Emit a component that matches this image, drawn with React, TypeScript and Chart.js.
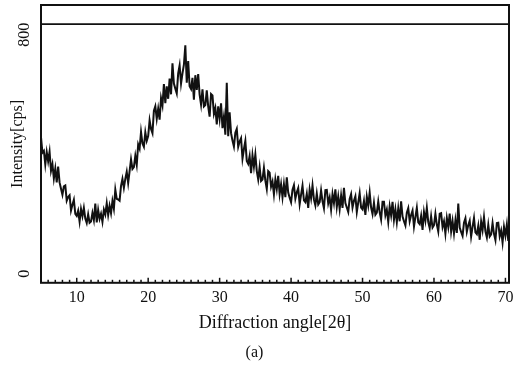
import { useEffect, useRef } from 'react';
import { Chart, registerables } from 'chart.js';

Chart.register(...registerables);

// Scan grid (degrees 2θ)
const SCAN_START = 5;
const SCAN_STEP = 0.2;

// Measured intensity [cps], one row per degree (5 steps each)
const INTENSITY = [
  458, 406, 412, 366, 408, // 5
  377, 409, 345, 367, 319, // 6
  352, 306, 359, 306, 285, // 7
  265, 293, 296, 245, 257, // 8
  263, 212, 231, 248, 201, // 9
  194, 211, 175, 217, 193, // 10
  221, 185, 170, 199, 171, // 11
  175, 204, 180, 235, 172, // 12
  214, 184, 201, 174, 215, // 13
  199, 236, 197, 228, 203, // 14
  244, 218, 282, 251, 249, // 15
  245, 294, 318, 288, 318, // 16
  342, 304, 344, 383, 351, // 17
  357, 395, 365, 433, 419, // 18
  475, 436, 425, 474, 445, // 19
  461, 514, 485, 471, 546, // 20
  561, 519, 553, 516, 588, // 21
  564, 635, 571, 628, 586, // 22
  654, 601, 705, 637, 620, // 23
  604, 671, 698, 637, 671, // 24
  700, 765, 640, 712, 628, // 25
  619, 656, 583, 665, 616, // 26
  669, 600, 567, 618, 560, // 27
  565, 614, 561, 526, 602, // 28
  597, 536, 555, 500, 561, // 29
  519, 571, 488, 526, 466, // 30
  640, 461, 541, 471, 446, // 31
  426, 472, 485, 425, 443, // 32
  454, 386, 418, 445, 378, // 33
  368, 394, 337, 397, 359, // 34
  400, 344, 316, 357, 311, // 35
  316, 355, 312, 284, 344, // 36
  339, 292, 309, 266, 316, // 37
  284, 328, 267, 300, 256, // 38
  300, 257, 323, 272, 255, // 39
  240, 282, 297, 252, 273, // 40
  287, 233, 265, 295, 246, // 41
  240, 268, 221, 282, 253, // 42
  296, 249, 229, 269, 232, // 43
  240, 279, 243, 220, 280, // 44
  281, 236, 256, 215, 267, // 45
  237, 283, 224, 259, 217, // 46
  262, 221, 288, 237, 222, // 47
  207, 251, 267, 222, 245, // 48
  260, 207, 239, 270, 222, // 49
  216, 244, 197, 258, 229, // 50
  272, 222, 200, 238, 198, // 51
  205, 242, 206, 182, 241, // 52
  241, 196, 215, 174, 226, // 53
  196, 241, 181, 216, 173, // 54
  219, 176, 243, 192, 176, // 55
  162, 205, 220, 176, 197, // 56
  212, 158, 190, 221, 172, // 57
  166, 194, 147, 207, 178, // 58
  221, 173, 153, 193, 155, // 59
  163, 201, 165, 142, 201, // 60
  203, 157, 176, 135, 187, // 61
  157, 202, 142, 177, 135, // 62
  179, 137, 235, 155, 140, // 63
  127, 171, 186, 141, 163, // 64
  178, 125, 157, 187, 139, // 65
  133, 161, 114, 175, 146, // 66
  190, 142, 122, 164, 125, // 67
  132, 170, 134, 113, 170, // 68
  171, 126, 145, 105, 157, // 69
  128, 165, 110,           // 70
];

const X_MIN = 5;
const X_MAX = 70.5;
const Y_MIN = -30;
const Y_MAX = 900;
const X_TICKS = [10, 20, 30, 40, 50, 60, 70];
const Y_TICKS = [0, 800];
const UPPER_LINE = 836;

const FONT = '"Liberation Serif", "DejaVu Serif", serif';
const INK = '#111';

// Frame, upper reference line, inward x ticks and rotated y labels
const framePlugin = {
  id: 'frame',
  afterDatasetsDraw(chart: any) {
    const { ctx, chartArea: a, scales } = chart;
    const x = scales.x;
    const y = scales.y;
    ctx.save();
    ctx.strokeStyle = INK;
    ctx.lineWidth = 2;
    ctx.strokeRect(a.left, a.top, a.right - a.left, a.bottom - a.top);

    const yl = y.getPixelForValue(UPPER_LINE);
    ctx.lineWidth = 1.6;
    ctx.beginPath();
    ctx.moveTo(a.left, yl);
    ctx.lineTo(a.right, yl);
    ctx.stroke();

    ctx.lineWidth = 1.5;
    for (let v = Math.ceil(X_MIN); v <= X_MAX; v++) {
      const px = x.getPixelForValue(v);
      const len = v % 10 === 0 ? 5 : 3;
      ctx.beginPath();
      ctx.moveTo(px, a.bottom);
      ctx.lineTo(px, a.bottom - len);
      ctx.stroke();
    }

    ctx.fillStyle = INK;
    ctx.font = `16px ${FONT}`;
    ctx.textAlign = 'center';
    ctx.textBaseline = 'middle';
    for (const v of Y_TICKS) {
      const py = y.getPixelForValue(v);
      ctx.save();
      ctx.translate(a.left - 16, py);
      ctx.rotate(-Math.PI / 2);
      ctx.fillText(String(v), 0, 0);
      ctx.restore();
    }
    ctx.restore();
  },
};

export default function App() {
  const ref = useRef<HTMLCanvasElement>(null);

  useEffect(() => {
    document.body.style.margin = '0';
    const points = INTENSITY.map((v, i) => ({ x: SCAN_START + i * SCAN_STEP, y: v }));
    const chart = new Chart(ref.current as HTMLCanvasElement, {
      type: 'line',
      data: {
        datasets: [
          {
            data: points,
            borderColor: INK,
            borderWidth: 2,
            pointRadius: 0,
            tension: 0,
          },
        ],
      },
      options: {
        animation: false,
        responsive: false,
        layout: { padding: { top: 5, right: 13, left: 0, bottom: 0 } },
        plugins: {
          legend: { display: false },
          tooltip: { enabled: false },
          title: {
            display: true,
            text: '(a)',
            position: 'bottom',
            color: INK,
            font: { family: FONT, size: 16, weight: 'normal' },
            padding: { top: 0, bottom: 3 },
          },
        },
        scales: {
          x: {
            type: 'linear',
            min: X_MIN,
            max: X_MAX,
            grid: { display: false, drawTicks: false },
            border: { display: false },
            afterBuildTicks: (s: any) => {
              s.ticks = X_TICKS.map((value) => ({ value }));
            },
            afterFit: (s: any) => {
              s.height = 60;
            },
            ticks: {
              color: INK,
              font: { family: FONT, size: 16 },
              padding: 5,
              maxRotation: 0,
              autoSkip: false,
            },
            title: {
              display: true,
              text: 'Diffraction angle[2θ]',
              color: INK,
              font: { family: FONT, size: 18 },
              padding: { top: 0, bottom: 9 },
            },
          },
          y: {
            min: Y_MIN,
            max: Y_MAX,
            grid: { display: false, drawTicks: false },
            border: { display: false },
            ticks: { display: false },
            afterFit: (s: any) => {
              s.width = 41;
            },
            title: {
              display: true,
              text: 'Intensity[cps]',
              color: INK,
              font: { family: FONT, size: 16 },
              padding: { top: 8, bottom: 0 },
            },
          },
        },
      },
      plugins: [framePlugin],
    });
    return () => chart.destroy();
  }, []);

  return <canvas ref={ref} width={522} height={365} style={{ display: 'block' }} />;
}
